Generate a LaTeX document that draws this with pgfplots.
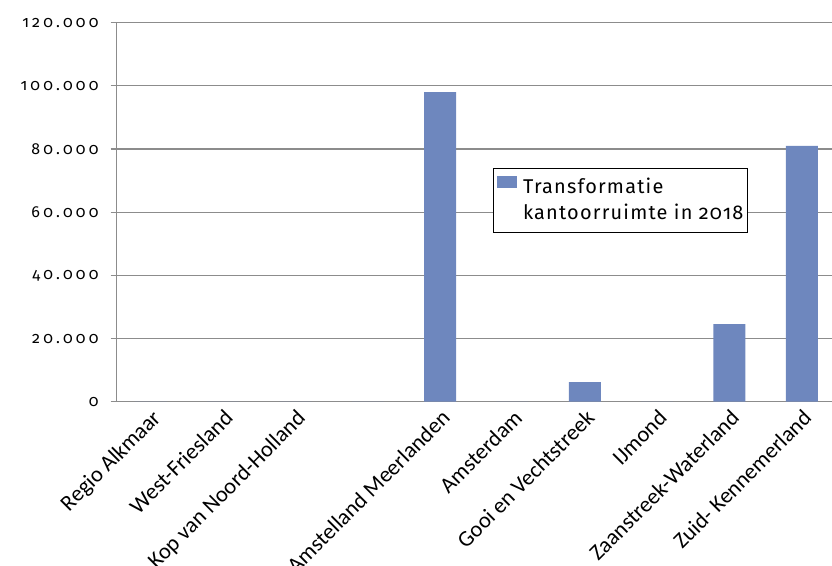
\documentclass[border=0pt]{standalone}
\usepackage{fontspec}
\usepackage{pgfplots}
\pgfplotsset{compat=1.18}
\setmainfont{Carlito}
\newfontfamily\rofont[Numbers=OldStyle, LetterSpace=6]{Fira Sans}
\newfontfamily\tickfont[Numbers=OldStyle, LetterSpace=20]{Fira Sans}
\definecolor{barblue}{RGB}{110,135,190}
\definecolor{gridgray}{RGB}{140,140,140}

\begin{document}
\begin{tikzpicture}
\begin{axis}[
  scale only axis,
  width=715.3bp, height=379bp,
  xmin=-0.5, xmax=9.39,
  ymin=0, ymax=120000,
  axis x line*=bottom, axis y line*=left,
  axis line style={gridgray, line width=1.2bp},
  ymajorgrids,
  grid style={gridgray, line width=1.2bp},
  tick align=outside,
  ytick={0,20000,40000,60000,80000,100000,120000},
  yticklabels={0,20.000,40.000,60.000,80.000,100.000,120.000},
  scaled y ticks=false,
  major tick style={gridgray, line width=1.2bp},
  major tick length=6bp,
  xtick={0,...,9},
  x tick style={draw=none},
  minor xtick={0.5,1.5,...,8.5},
  minor x tick style={gridgray, line width=1.2bp},
  minor tick length=6bp,
  xticklabels={Regio Alkmaar, West-Friesland, Kop van Noord-Holland, {}, Amstelland Meerlanden, Amsterdam, Gooi en Vechtstreek, IJmond, Zaanstreek-Waterland, Zuid- Kennemerland},
  xticklabel style={xshift=-2bp, yshift=-0.5bp, rotate=45, anchor=north east,
    inner sep=0pt, font=\fontsize{22.5}{22.5}\selectfont},
  yticklabel style={font=\tickfont\fontsize{16}{16}\selectfont, inner sep=0pt, xshift=-12bp},
  legend style={at={(0.5257,0.6158)}, anchor=north west, draw=black,
    line width=0.8bp, inner xsep=4bp, inner ysep=1bp,
    font=\rofont\fontsize{20}{25}\selectfont,
    nodes={inner sep=0pt, text height=24bp, text depth=12bp},
    cells={anchor=west}, column sep=6bp, row sep=-10.3bp},
  legend image code/.code={%
    \path (0bp,0bp) rectangle (20bp,12bp);
    \fill[#1] (8bp,0bp) rectangle (20bp,12bp);},
]
\addplot[ybar, fill=barblue, draw=none, bar width=32bp, bar shift=-2bp]
  coordinates {(0,0) (1,0) (2,0) (3,0) (4,98000) (5,0) (6,6200) (7,0) (8,24600) (9,81000)};
\addlegendentry{Transformatie}
\addlegendimage{draw=none, fill=white}
\addlegendentry{kantoorruimte in 2018}
\end{axis}
\pgfresetboundingbox
\path (-116.7bp,-164.3bp) rectangle (715.3bp,401.7bp);
\end{tikzpicture}
\end{document}
